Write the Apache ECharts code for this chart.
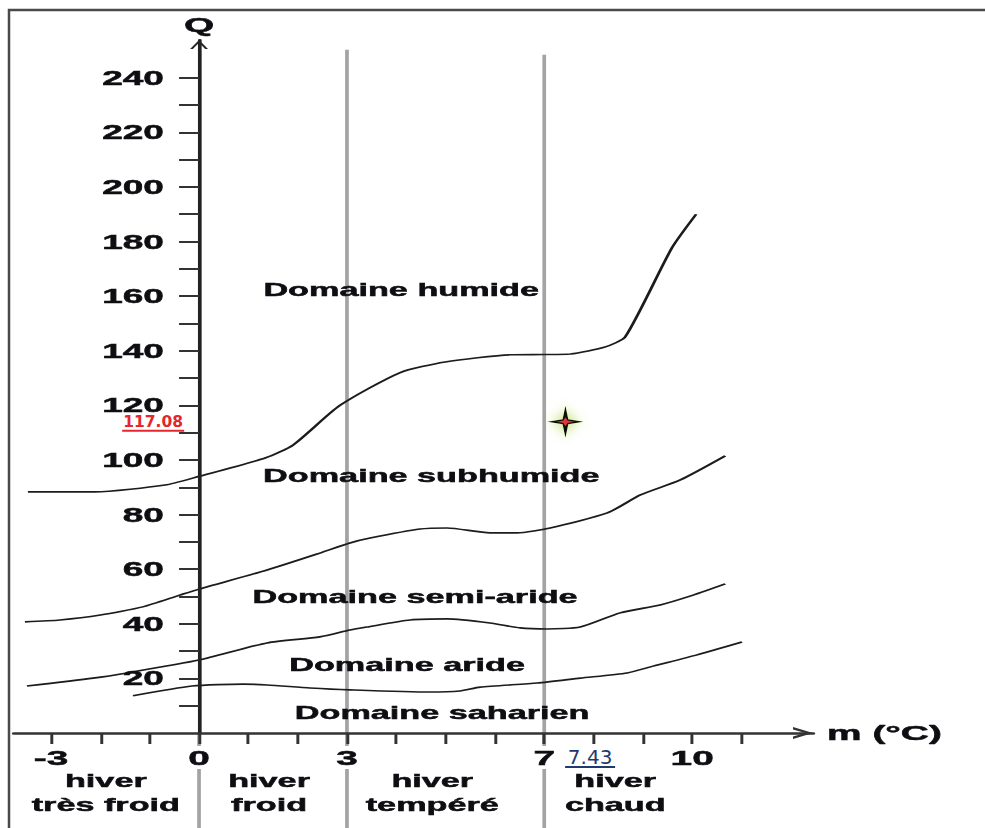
<!DOCTYPE html>
<html><head><meta charset="utf-8">
<script src="https://cdn.jsdelivr.net/npm/echarts@6/dist/echarts.min.js"></script>
<style>
html,body{margin:0;padding:0;width:985px;height:828px;overflow:hidden;background:#fff;}
#main{position:absolute;left:0;top:0;width:532.43px;height:828px;transform:scaleX(1.85);transform-origin:0 0;}
#over{position:absolute;left:0;top:0;width:985px;height:828px;pointer-events:none;}
</style></head><body>
<div id="main"></div><div id="over"></div>
<script>
// ---------- data ----------
const xTickValues = [-3,-2,-1,0,1,2,3,4,5,6,7,8,9,10,11];
const xLabelValues = [-3,0,3,7,10];
const yTickValues = [10,20,30,40,50,60,70,80,90,100,110,120,130,140,150,160,170,180,190,200,210,220,230,240];
const yLabelValues = [20,40,60,80,100,120,140,160,180,200,220,240];

const limitHumide = [[-3.47,88.3],[-2.11,88.3],[-0.69,90.8],[0,94],[1.34,100.7],[1.91,105.5],[2.86,120],[4.08,132],[4.99,135.9],[6.31,138.5],[7.0,138.6],[7.53,138.8],[8.24,141.4],[8.64,145],[9.59,177.7],[10.08,190]];
const limitSubhumide = [[-3.53,40.7],[-2.82,41.4],[-2.0,43.2],[-1.14,46.2],[-0.39,50.5],[0,52.7],[1.38,59.7],[2.45,65.9],[3.06,69.6],[3.47,71.4],[4.48,74.7],[5.03,75.1],[5.9,73.3],[6.45,73.3],[7.12,75.1],[8.28,80.6],[8.95,87.2],[9.76,92.7],[10.67,101.5]];
const limitSemiAride = [[-3.49,17.2],[-2.15,20.1],[-1.46,22],[0,26.7],[1.38,33],[2.45,35.2],[3.06,37.7],[3.4,38.8],[4.28,41.4],[5.03,41.8],[5.9,40.3],[6.51,38.5],[7.06,38.1],[7.73,38.8],[8.54,44],[9.35,46.9],[10.02,50.5],[10.67,54.6]];
const limitAride = [[-1.34,13.6],[-0.14,17.2],[0.89,17.9],[1.38,17.6],[2.25,16.5],[3.06,15.8],[4.68,15],[5.29,15.4],[5.7,16.8],[6.86,18.3],[7.73,20.1],[8.68,22],[9.21,24.5],[10.1,28.6],[11.01,33.3]];

const domainNames = ['Domaine humide','Domaine subhumide','Domaine semi-aride','Domaine aride','Domaine saharien'];
const domainAnchors = [[4.10,162.3],[4.71,94.1],[4.38,49.8],[4.22,24.9],[4.93,7.3]];

const winterNames = ['hiver\ntrès froid','hiver\nfroid','hiver\ntempéré','hiver\nchaud'];
const winterAnchors = [[-1.89,-22],[1.42,-22],[4.73,-22],[8.44,-22]];

const dividerX = [0,3,7];
const dividerTop = [0,250.2,248.4];
const dividerBottom = -35;

const stationM = 7.43;
const stationQPlot = 114;
const stationQText = '117.08';
const stationMText = '7.43';
const qLabelAnchor = [-0.93,114.0];
const mLabelAnchor = [7.93,-8.8];

// ---------- layout ----------
const S = 1.85;
const X_MIN = -3.75, X_MAX = 12.45, Y_MIN = 0, Y_MAX = 253.8;
const G_LEFT = 14.1, G_TOP = 40, G_W = 798.9, G_H = 693;
const FONT = 'Liberation Sans';
const INK = '#0e0e12';
const HIDDEN = {color:'rgba(0,0,0,0)', opacity:1};
const HEAVY = {textBorderColor:INK, textBorderWidth:0.5};
// y axis sits at m = 0: shift it right from the grid's left edge
const Y_AXIS_OFFSET = -((0 - X_MIN) / (X_MAX - X_MIN)) * (G_W / S);

const main = echarts.init(document.getElementById('main'), null, {renderer:'svg'});

function curve(data){
  return {type:'line', data:data, smooth:0.22, symbol:'none', silent:true, z:3,
    lineStyle:{color:'#1c1c1c', width:1.6}};
}
const dividerSeries = dividerX.map((x,i)=>({
  type:'line', symbol:'none', silent:true, clip:false, z:1,
  data:[[x,dividerTop[i]],[x,dividerBottom]],
  lineStyle:{color:'#a3a3a3', width:2}
}));

main.setOption({
  animation:false,
  grid:{left:G_LEFT/S, top:G_TOP, width:G_W/S, height:G_H, containLabel:false, outerBoundsMode:'none'},
  xAxis:{type:'value', min:X_MIN, max:X_MAX, z:5,
    name:'m (°C)', nameLocation:'end', nameGap:7.6,
    nameTextStyle:Object.assign({fontFamily:FONT, fontWeight:'bold', fontSize:21, color:INK, verticalAlign:'middle'}, HEAVY),
    axisLine:{onZero:true, lineStyle:{color:'#333', width:2.5},
      symbol:['none','path://M0,10.8 L6,0 L12,10.8 L9.6,10.8 L6,4.32 L2.4,10.8 Z'],
      symbolSize:[12,10.8], symbolOffset:[0,-5.4]},
    axisTick:{show:true, customValues:xTickValues, length:11, lineStyle:{color:'#333', width:1.6}},
    axisLabel:Object.assign({customValues:xLabelValues, margin:13, fontFamily:FONT, fontWeight:'bold', fontSize:21, color:INK,
      backgroundColor:'#fff', padding:[1,2]}, HEAVY),
    splitLine:{show:false}},
  yAxis:{type:'value', min:Y_MIN, max:Y_MAX, z:5, position:'left', offset:Y_AXIS_OFFSET,
    name:'Q', nameLocation:'end', nameGap:5,
    nameTextStyle:Object.assign({fontFamily:FONT, fontWeight:'bold', fontSize:21, color:INK}, HEAVY),
    axisLine:{show:true, onZero:false, lineStyle:{color:'#222', width:2},
      symbol:['none','path://M0,9 L4.85,0 L9.7,9 L8.2,9 L4.85,2.78 L1.5,9 Z'],
      symbolSize:[9.7,9], symbolOffset:[0,-4.5]},
    axisTick:{show:true, customValues:yTickValues, length:10.8, lineStyle:{color:'#333', width:2}},
    axisLabel:Object.assign({customValues:yLabelValues, margin:19, fontFamily:FONT, fontWeight:'bold', fontSize:20, color:INK}, HEAVY),
    splitLine:{show:false}},
  series:[
    ...dividerSeries,
    curve(limitHumide), curve(limitSubhumide), curve(limitSemiAride), curve(limitAride),
    {type:'scatter', silent:true, symbolSize:1, itemStyle:HIDDEN, z:4,
      data:domainAnchors.map((p,i)=>({value:p, name:domainNames[i]})),
      label:Object.assign({show:true, position:'inside', formatter:'{b}', fontFamily:FONT, fontWeight:'bold', fontSize:18.5, color:INK, opacity:1}, HEAVY)},
    {type:'scatter', silent:true, clip:false, symbolSize:1, itemStyle:HIDDEN, z:4,
      data:winterAnchors.map((p,i)=>({value:p, name:winterNames[i]})),
      label:Object.assign({show:true, position:'inside', formatter:'{b}', fontFamily:FONT, fontWeight:'bold', fontSize:18.5, lineHeight:24, color:INK, align:'center', opacity:1}, HEAVY)}
  ]
});

// ---------- overlay (annotations, not stretched) ----------
const over = echarts.init(document.getElementById('over'), null, {renderer:'svg'});
over.setOption({
  animation:false,
  grid:{left:G_LEFT, top:G_TOP, width:G_W, height:G_H, containLabel:false, outerBoundsMode:'none'},
  xAxis:{type:'value', min:X_MIN, max:X_MAX, show:false},
  yAxis:{type:'value', min:Y_MIN, max:Y_MAX, show:false},
  series:[
    {type:'scatter', silent:true, clip:false, z:5,
      symbol:'path://M50,0 L58,42 L100,50 L58,58 L50,100 L42,58 L0,50 L42,42 Z', symbolSize:[36,32],
      itemStyle:{color:'#0c0c0c', opacity:1, shadowBlur:12, shadowColor:'rgba(170,215,60,1)'},
      data:[[stationM, stationQPlot]]},
    {type:'scatter', silent:true, clip:false, z:6,
      symbol:'path://M50,20 L62,42 L100,50 L62,58 L50,80 L38,58 L0,50 L38,42 Z', symbolSize:[18,9],
      itemStyle:{color:'#e2323c', opacity:1},
      data:[[stationM, stationQPlot]]},
    {type:'scatter', silent:true, clip:false, symbolSize:1, itemStyle:HIDDEN, z:6,
      data:[{value:qLabelAnchor, name:stationQText}],
      label:{show:true, position:'inside', formatter:'{b}', fontFamily:'DejaVu Sans', fontWeight:'bold', fontSize:15.5, color:'#e5262c', opacity:1, textBorderWidth:0}},
    {type:'scatter', silent:true, clip:false, symbolSize:1, itemStyle:HIDDEN, z:6,
      data:[{value:mLabelAnchor, name:stationMText}],
      label:{show:true, position:'inside', formatter:'{b}', fontFamily:'DejaVu Sans', fontSize:20, color:'#1f3a6e', opacity:1, textBorderWidth:0}}
  ]
});
const qp = over.convertToPixel({gridIndex:0}, qLabelAnchor);
const mp = over.convertToPixel({gridIndex:0}, mLabelAnchor);
over.setOption({
  graphic:[
    {type:'polyline', silent:true, shape:{points:[[9,828],[9,10],[985,10]]}, style:{stroke:'#4a4a4a', lineWidth:2.5, fill:null}},
    {type:'line', silent:true, shape:{x1:qp[0]-31, y1:qp[1]+9, x2:qp[0]+31, y2:qp[1]+9}, style:{stroke:'#e5262c', lineWidth:2}},
    {type:'line', silent:true, shape:{x1:mp[0]-25, y1:mp[1]+10, x2:mp[0]+25, y2:mp[1]+10}, style:{stroke:'#1f3a6e', lineWidth:2}}
  ]
});
</script>
</body></html>
